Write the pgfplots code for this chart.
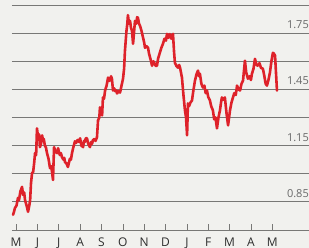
\documentclass[border=0pt]{standalone}
\usepackage{fontspec}
\setmainfont{Open Sans}
\usepackage{pgfplots}
\pgfplotsset{compat=1.18}
\usepackage{pgfplotstable}
\definecolor{bg}{RGB}{241,241,238}
\definecolor{linered}{RGB}{222,34,42}
\definecolor{gridgray}{RGB}{120,120,118}
\definecolor{labgray}{RGB}{105,105,105}
\definecolor{monthgray}{RGB}{45,45,45}
\pgfplotstableread{
m v
-0.14 0.781
-0.09 0.800
-0.05 0.818
0.02 0.830
0.09 0.871
0.14 0.860
0.20 0.905
0.28 0.930
0.33 0.887
0.38 0.900
0.42 0.860
0.51 0.823
0.56 0.797
0.62 0.830
0.66 0.861
0.70 0.950
0.75 1.004
0.80 1.009
0.85 1.060
0.89 1.110
0.94 1.100
0.98 1.242
1.03 1.195
1.08 1.210
1.12 1.142
1.17 1.160
1.22 1.205
1.26 1.179
1.30 1.185
1.35 1.150
1.40 1.140
1.45 1.110
1.52 1.080
1.59 1.030
1.65 1.040
1.73 0.967
1.78 1.142
1.84 1.120
1.92 1.110
1.97 1.136
2.01 1.115
2.05 1.100
2.10 1.110
2.15 1.089
2.22 1.075
2.26 1.085
2.29 1.062
2.36 1.055
2.43 1.036
2.48 1.060
2.52 1.080
2.57 1.075
2.62 1.110
2.68 1.140
2.76 1.173
2.82 1.165
2.88 1.180
2.94 1.170
3.00 1.189
3.06 1.150
3.14 1.142
3.18 1.175
3.22 1.170
3.27 1.190
3.32 1.189
3.38 1.160
3.46 1.142
3.52 1.170
3.56 1.160
3.60 1.179
3.66 1.185
3.72 1.175
3.79 1.195
3.84 1.285
3.90 1.300
3.93 1.354
3.98 1.330
4.03 1.311
4.07 1.407
4.12 1.400
4.17 1.444
4.24 1.470
4.31 1.513
4.36 1.495
4.40 1.500
4.45 1.520
4.49 1.507
4.54 1.444
4.60 1.455
4.64 1.440
4.69 1.445
4.73 1.428
4.80 1.440
4.87 1.433
4.94 1.470
5.01 1.507
5.06 1.560
5.10 1.656
5.17 1.760
5.21 1.800
5.24 1.846
5.29 1.800
5.34 1.815
5.38 1.780
5.43 1.762
5.48 1.693
5.53 1.760
5.57 1.815
5.63 1.800
5.67 1.835
5.71 1.831
5.76 1.800
5.81 1.788
5.88 1.760
5.95 1.725
6.00 1.700
6.04 1.672
6.11 1.680
6.18 1.672
6.23 1.640
6.30 1.610
6.37 1.576
6.43 1.600
6.48 1.590
6.54 1.575
6.60 1.576
6.65 1.613
6.72 1.640
6.80 1.670
6.88 1.693
6.95 1.720
7.02 1.710
7.07 1.746
7.13 1.725
7.20 1.745
7.27 1.720
7.35 1.746
7.40 1.650
7.44 1.592
7.51 1.575
7.58 1.566
7.64 1.580
7.68 1.566
7.77 1.513
7.84 1.420
7.91 1.338
7.96 1.300
8.01 1.205
8.05 1.375
8.10 1.360
8.17 1.380
8.24 1.391
8.30 1.440
8.38 1.497
8.45 1.530
8.52 1.550
8.57 1.520
8.61 1.534
8.68 1.480
8.75 1.460
8.82 1.470
8.88 1.430
8.94 1.444
9.00 1.410
9.08 1.391
9.14 1.360
9.22 1.338
9.28 1.290
9.34 1.300
9.41 1.242
9.48 1.300
9.55 1.338
9.60 1.380
9.64 1.407
9.71 1.395
9.78 1.407
9.86 1.320
9.93 1.258
10.02 1.338
10.09 1.380
10.16 1.407
10.22 1.430
10.29 1.420
10.35 1.470
10.42 1.450
10.49 1.444
10.56 1.480
10.63 1.497
10.72 1.603
10.78 1.540
10.86 1.507
10.94 1.520
11.00 1.500
11.05 1.534
11.12 1.560
11.19 1.613
11.26 1.580
11.33 1.576
11.40 1.590
11.47 1.565
11.56 1.560
11.63 1.520
11.69 1.480
11.75 1.470
11.82 1.500
11.89 1.539
11.96 1.600
12.03 1.645
12.08 1.640
12.13 1.630
12.22 1.444
}\fxdata
\begin{document}
\begin{tikzpicture}
\useasboundingbox (-12pt,-18pt) rectangle (297pt,230pt);
\fill[bg] (-12pt,-18pt) rectangle (297pt,230pt);
\begin{axis}[
  scale only axis,
  width=297pt, height=225pt,
  xmin=-0.19, xmax=13.72,
  ymin=0.70, ymax=1.90,
  clip=false,
  axis x line*=bottom,
  axis y line*=right,
  y axis line style={draw=none},
  x axis line style={gridgray, line width=0.9pt},
  xtick={0,...,12},
  xticklabels={M,J,J,A,S,O,N,D,J,F,M,A,M},
  xtick style={gridgray, line width=0.6pt},
  tick align=inside,
  major tick length=6pt,
  xticklabel style={anchor=base, yshift=-16.5pt, font=\fontsize{12}{12}\selectfont, text=monthgray},
  ytick={0.85,1.00,1.15,1.30,1.45,1.60,1.75,1.90},
  yticklabels={0.85,,1.15,,1.45,,1.75,},
  ytick style={draw=none},
  yticklabel style={anchor=south east, xshift=0.5pt, yshift=0.8pt, inner xsep=0.5pt, font=\fontsize{11}{11}\selectfont, text=labgray},
  ymajorgrids,
  grid style={gridgray, line width=0.8pt},
]
\addplot[linered, line width=2.6pt, line join=round, line cap=round] table[x=m,y=v] {\fxdata};
\end{axis}
\end{tikzpicture}
\end{document}
